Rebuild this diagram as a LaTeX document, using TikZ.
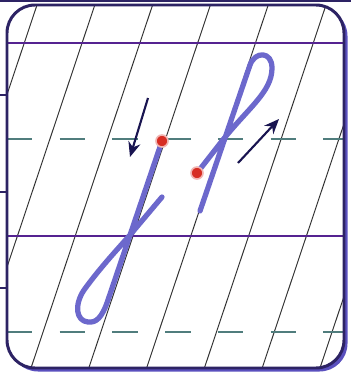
\documentclass[tikz,border=0pt]{standalone}
\usetikzlibrary{arrows.meta}
\definecolor{framecol}{RGB}{45,35,100}
\definecolor{shadowcol}{RGB}{90,80,190}
\definecolor{rulecol}{RGB}{85,35,145}
\definecolor{midcol}{RGB}{80,125,125}
\definecolor{pencol}{RGB}{108,104,204}
\definecolor{hintcol}{RGB}{25,20,80}
\definecolor{dotcol}{RGB}{215,45,35}
\begin{document}
\begin{tikzpicture}[x=0.02cm, y=-0.02cm,
  boxframe/.style={draw=framecol, line width=1.7pt, rounded corners=0.56cm},
  ruleline/.style={draw=rulecol, line width=1.4pt},
  midline/.style={draw=midcol, line width=0.9pt, dash pattern=on 14.5pt off 15.5pt},
  gridslant/.style={draw=black!80, line width=0.55pt},
  letterpen/.style={draw=pencol, line width=3pt, line cap=round, line join=round},
  hint/.style={draw=hintcol, line width=1.2pt, -{Stealth[length=8.5pt,width=7pt]}},
  startdot/.style={circle, fill=dotcol, draw=dotcol!35, line width=0.9pt,
                   minimum size=0.24cm, inner sep=0pt}
]
\useasboundingbox (0,0) rectangle (351,376);
\draw[framecol, line width=1pt] (0,0.8) -- (351,0.8);
\foreach \ty in {95,192,288}
  \draw[framecol, line width=1pt] (0,\ty) -- (7,\ty);
\fill[shadowcol, rounded corners=0.56cm] (10,8) rectangle (347.5,371.5);
\fill[white, rounded corners=0.56cm] (7,5) rectangle (344,368);

\begin{scope}
  \clip[rounded corners=0.56cm] (7,5) rectangle (344,368);
  \foreach \k in {0,...,7}
    \draw[gridslant] ({37+57.8*\k},5) -- ({37+57.8*\k-0.335*363},368);
\end{scope}

\draw[ruleline] (7,43) -- (344,43);
\draw[ruleline] (7,236) -- (344,236);
\draw[midline] (7,139) -- (344,139);
\draw[midline] (7,332) -- (344,332);
\draw[boxframe] (7,5) rectangle (344,368);

\coordinate (sa) at (162,141);
\coordinate (sb) at (197,173);
\draw[letterpen] (sa) -- (108,300) .. controls (102,318) and (96,323) .. (88,322)
  .. controls (76,321) and (74,305) .. (84,290)
  .. controls (100,268) and (115,252) .. (130,235) -- (162,197);
\draw[letterpen] (sb) -- (222,141) .. controls (248,108) and (272,92) .. (272,68)
  .. controls (272,51) and (255,51) .. (250,65) -- (200,211);

\coordinate (downtail) at (148,98);
\coordinate (downtip) at (130,157);
\coordinate (uptail) at (238,163);
\coordinate (uptip) at (279,119);
\draw[hint] (downtail) -- (downtip);
\draw[hint] (uptail) -- (uptip);

\node[startdot] (dota) at (sa) {};
\node[startdot] (dotb) at (sb) {};
\end{tikzpicture}
\end{document}
